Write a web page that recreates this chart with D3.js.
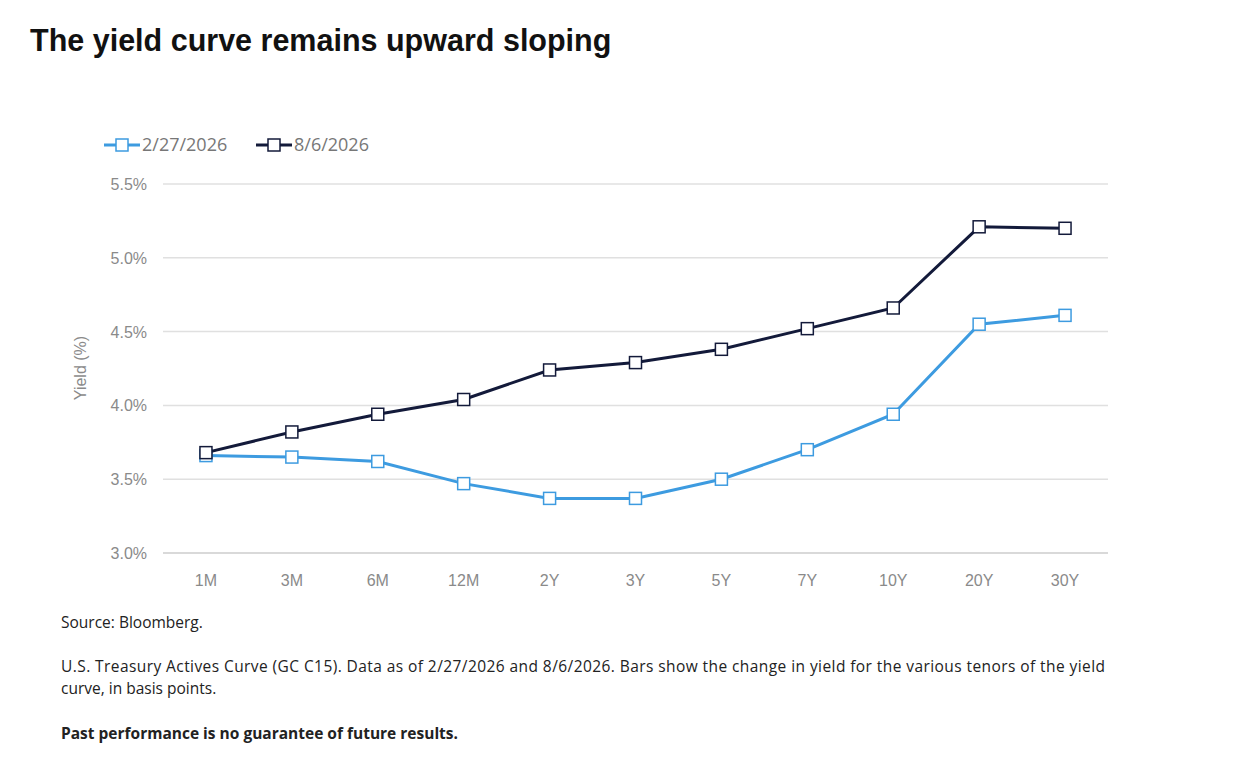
<!DOCTYPE html>
<html><head><meta charset="utf-8">
<script src="https://cdn.jsdelivr.net/npm/d3@7"></script>
<style>body{margin:0;background:#fff;font-family:"Liberation Sans",Arial,sans-serif}</style>
</head><body>
<svg id="c" width="1246" height="782"></svg>
<script>
const tenors=["1M","3M","6M","12M","2Y","3Y","5Y","7Y","10Y","20Y","30Y"];
const feb=[3.66,3.65,3.62,3.47,3.37,3.37,3.50,3.70,3.94,4.55,4.61];
const aug=[3.68,3.82,3.94,4.04,4.24,4.29,4.38,4.52,4.66,5.21,5.20];
const yTicks=[3.0,3.5,4.0,4.5,5.0,5.5];
const seriesNames=["2/27/2026","8/6/2026"];
const colors=["#3d9be0","#131a3a"];

const svg=d3.select("#c");
svg.append("text").attr("x",30).attr("y",51).attr("font-size",30.5).attr("font-weight","bold").attr("fill","#111").text("The yield curve remains upward sloping");

const x=d3.scalePoint().domain(tenors).range([163,1108]).padding(0.5);
const y=d3.scaleLinear().domain([3.0,5.5]).range([553,184]);

const grid=svg.append("g");
yTicks.forEach(t=>{
  grid.append("line").attr("x1",163).attr("x2",1108).attr("y1",y(t)).attr("y2",y(t)).attr("stroke",t===3.0?"#ccc":"#e0e0e0").attr("stroke-width",1.5);
  grid.append("text").attr("x",147).attr("y",y(t)+6).attr("text-anchor","end").attr("font-size",16).attr("fill","#8a8a8a").text(t.toFixed(1)+"%");
});
tenors.forEach(t=>{
  svg.append("text").attr("x",x(t)).attr("y",586).attr("text-anchor","middle").attr("font-size",16).attr("fill","#8a8a8a").text(t);
});
svg.append("text").attr("transform","translate(86,368) rotate(-90)").attr("text-anchor","middle").attr("font-size",16).attr("fill","#8a8a8a").text("Yield (%)");

const line=d3.line().x((d,i)=>x(tenors[i])).y(d=>y(d));
[feb,aug].forEach((s,k)=>{
  svg.append("path").attr("d",line(s)).attr("fill","none").attr("stroke",colors[k]).attr("stroke-width",3);
  s.forEach((v,i)=>svg.append("rect").attr("x",x(tenors[i])-6).attr("y",y(v)-6).attr("width",12).attr("height",12).attr("fill","#fff").attr("stroke",colors[k]).attr("stroke-width",1.5));
});
[[104,142],[256,294]].forEach(([lx,tx],k)=>{
  svg.append("line").attr("x1",lx).attr("x2",lx+36).attr("y1",145).attr("y2",145).attr("stroke",colors[k]).attr("stroke-width",3);
  svg.append("rect").attr("x",lx+12).attr("y",139).attr("width",12).attr("height",12).attr("fill","#fff").attr("stroke",colors[k]).attr("stroke-width",1.5);
  svg.append("text").attr("x",tx).attr("y",151).attr("font-size",18).attr("font-family","'Open Sans'").attr("fill","#777").text(seriesNames[k]);
});
const f=svg.append("g").attr("font-size",15.5).attr("font-family","'Open Sans'").attr("fill","#222");
f.append("text").attr("x",61).attr("y",628).text("Source: Bloomberg.");
f.append("text").attr("x",61).attr("y",672).attr("textLength",1044).text("U.S. Treasury Actives Curve (GC C15). Data as of 2/27/2026 and 8/6/2026. Bars show the change in yield for the various tenors of the yield");
f.append("text").attr("x",61).attr("y",694).text("curve, in basis points.");
f.append("text").attr("x",61).attr("y",739).attr("font-weight","bold").text("Past performance is no guarantee of future results.");
</script></body></html>
